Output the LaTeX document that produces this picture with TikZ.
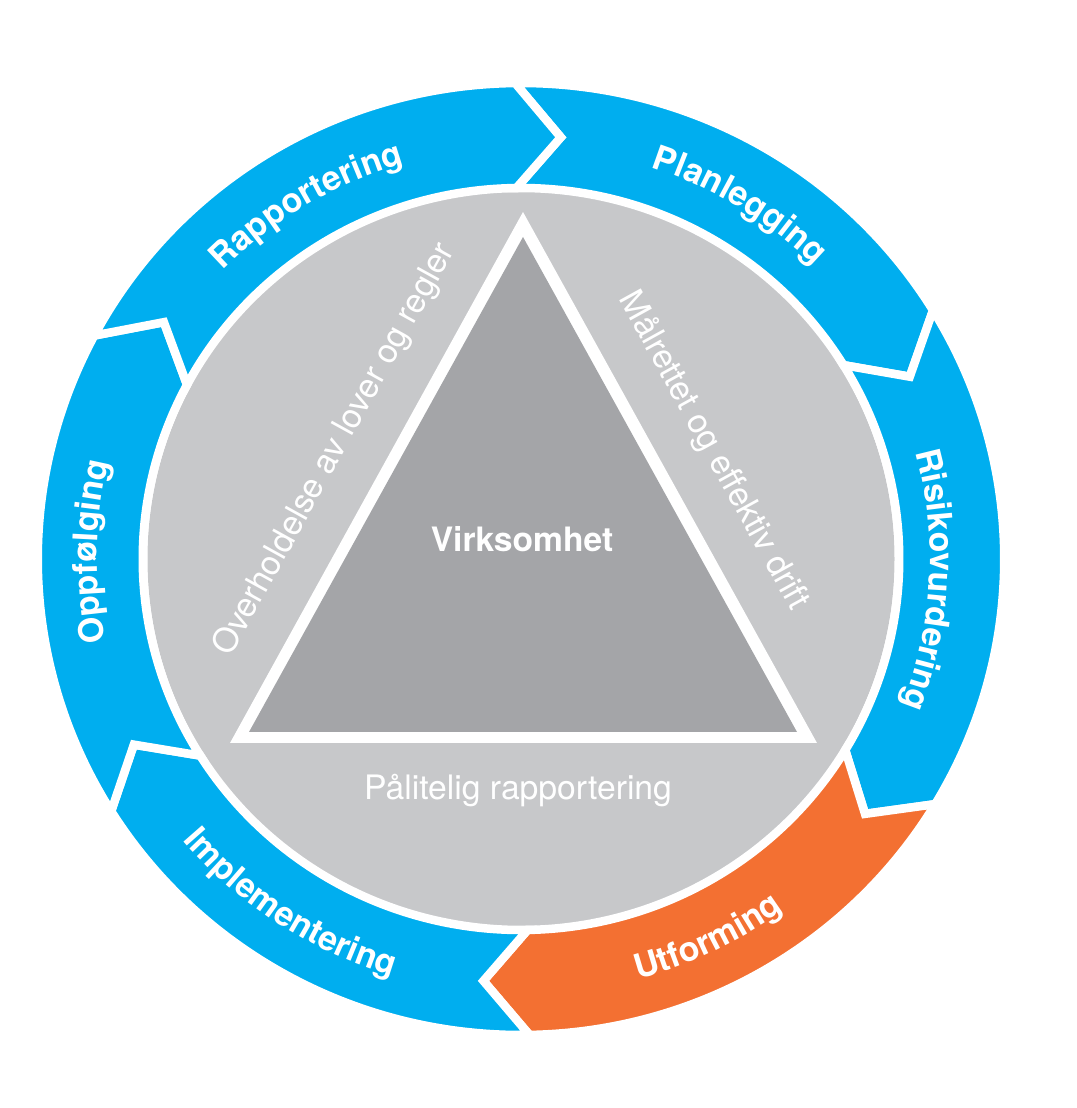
\documentclass[tikz,border=0pt]{standalone}
\usepackage{fontspec}
\setmainfont{TeX Gyre Heros}
\usetikzlibrary{decorations.text}
\definecolor{ringblue}{HTML}{00AEEF}
\definecolor{ringorange}{HTML}{F37032}
\definecolor{discgray}{HTML}{C7C8CA}
\definecolor{trigray}{HTML}{A4A5A8}
\newcommand{\ringfont}{\bfseries\fontsize{34}{40}\selectfont}
% one chevron of the ring, from angle #1 clockwise to angle #2
\newcommand{\ringpart}[3]{%
  \fill[#3, draw=white, line width=8.5, line join=miter]
    (#1:483.25 and 476) arc[start angle=#1, end angle=#2, x radius=483.25, y radius=476]
    -- ({#2-6}:430.75 and 423.5) -- (#2:378.25 and 371)
    arc[start angle=#2, end angle=#1, x radius=378.25, y radius=371]
    -- ({#1-6}:430.75 and 423.5) -- cycle;}
% text set along an arc
\newcommand{\ringlabel}[5]{%
  \path[decorate, decoration={text along path, text align=center,
      text color=white, text={|\ringfont|#5}}]
    (#1:#3 and #4) arc[start angle=#1, end angle=#2, x radius=#3, y radius=#4];}
\tikzset{
  innertext/.style={text=white, inner sep=0pt, font=\fontsize{33.7}{40}\selectfont}
}
\begin{document}
\begin{tikzpicture}[x=1pt, y=1pt]
  \useasboundingbox (0,0) rectangle (1076,1108);
  \begin{scope}[shift={(521,549)}]
    \fill[discgray] (0,0) ellipse[x radius=373.5, y radius=369];
    \ringpart{90.7}{31.5}{ringblue}
    \ringpart{31.5}{-31}{ringblue}
    \ringpart{-31}{-89}{ringorange}
    \ringpart{-89}{-148}{ringblue}
    \ringpart{-148}{-208}{ringblue}
    \ringpart{152}{90.7}{ringblue}
    \ringlabel{161}{81}{418}{412}{Rapportering}
    \ringlabel{98.5}{18.5}{418}{412}{Planlegging}
    \ringlabel{37}{-43}{409}{403}{Risikovurdering}
    \ringlabel{-104}{-24}{443}{436}{Utforming}
    \ringlabel{196.5}{276.5}{443}{436}{Implementering}
    \ringlabel{219}{139}{424}{418}{Oppfølging}
  \end{scope}

  \fill[white] (523,896) -- (817,365) -- (230,365) -- cycle;
  \fill[trigray] (523,871) -- (797,376) -- (249,376) -- cycle;

  \node[innertext, font=\bfseries\fontsize{33.6}{40}\selectfont, anchor=base] (virksomhet) at (522,556) {Virksomhet};
  \node[innertext, anchor=base] (paalitelig) at (518,308) {Pålitelig rapportering};
  \node[innertext, rotate=61.1] (overholdelse) at (335,658) {Overholdelse av lover og regler};
  \node[innertext, rotate=-61.1] (maalrettet) at (713,657) {Målrettet og effektiv drift};
\end{tikzpicture}
\end{document}
